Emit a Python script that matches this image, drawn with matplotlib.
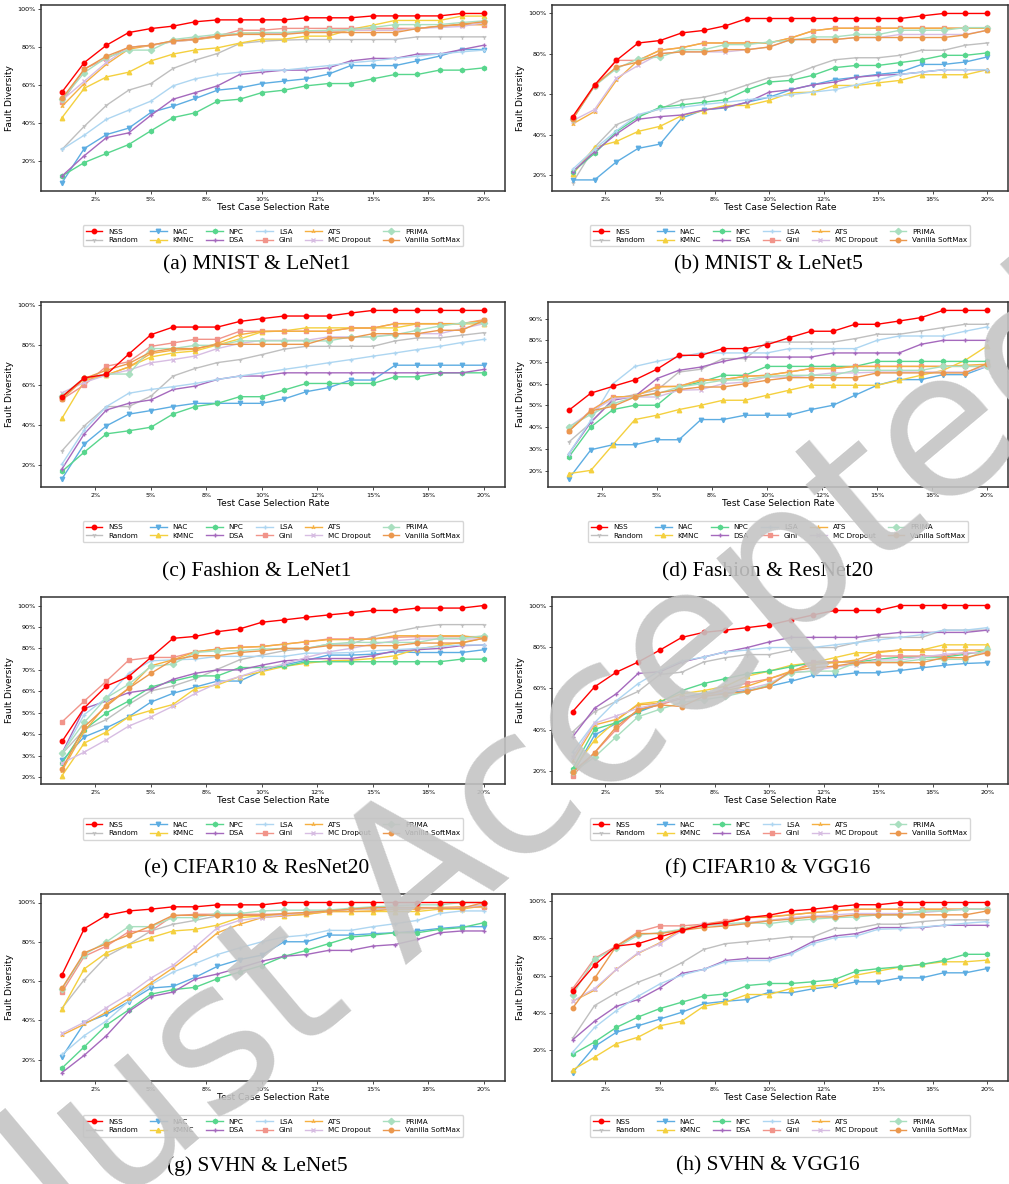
import matplotlib.pyplot as plt
from matplotlib.ticker import PercentFormatter

methods = ["NSS", "Random", "NAC", "KMNC", "NPC", "DSA", "LSA", "Gini", "ATS",
           "MC Dropout", "PRIMA", "Vanilla SoftMax"]
colors = ["#ff0000", "#bfbfbf", "#5dade2", "#f4d03f", "#58d68d", "#a569bd", "#aed6f1",
          "#f1948a", "#f5b041", "#d7bde2", "#a9dfbf", "#eb984e"]
markers = ["o", "1", "v", "^", "h", "+", "+", "s", "2", "x", "D", "o"]

rates = list(range(1, 21))  # selection rate, %

# rows follow the order of `methods`
a_vals = [
    [56.4, 71.9, 81.1, 87.8, 89.9, 91.2, 93.5, 94.5, 94.5, 94.5, 94.5, 95.6, 95.6, 95.6, 96.6, 96.6, 96.6, 96.6, 97.9, 97.9],
    [26, 38.2, 49.3, 57.3, 60.8, 68.8, 73.2, 76.7, 82, 83.2, 83.8, 84.1, 84.1, 84.1, 84.1, 84.1, 85.5, 85.5, 85.5, 85.5],
    [8.4, 26.4, 33.8, 37.2, 45.5, 48.8, 52.9, 57.3, 58.5, 60.8, 62.1, 63.3, 65.8, 70.3, 70.3, 70.3, 72.8, 75.3, 78.8, 78.8],
    [42.8, 58.3, 64.3, 66.8, 72.8, 76.4, 78.6, 79.7, 82.2, 84.3, 84.3, 85.9, 85.9, 89.5, 91.7, 94.2, 94.2, 94.2, 96.5, 96.5],
    [11.9, 19.0, 23.8, 28.5, 35.8, 42.8, 45.3, 51.5, 52.5, 56.0, 57.3, 59.6, 60.8, 60.8, 63.3, 65.6, 65.6, 67.9, 67.9, 69.1],
    [11.9, 22.6, 32.2, 34.7, 44.0, 52.5, 56.0, 59.6, 65.6, 66.8, 67.9, 67.9, 69.1, 72.8, 74.1, 74.1, 76.4, 76.4, 78.8, 81.1],
    [26.0, 33.5, 41.9, 46.7, 51.5, 59.6, 63.3, 65.6, 66.8, 67.9, 67.9, 69.1, 70.3, 71.8, 72.8, 74.1, 75.3, 76.4, 77.6, 78.5],
    [51, 68.6, 74, 80, 81, 83.4, 84.6, 86, 89, 89, 90, 90, 90, 90, 90, 90, 90, 91, 92, 92],
    [48.8, 60.8, 71, 79, 81, 83, 84, 85.5, 87.5, 87.5, 87.5, 88, 88, 89, 89, 89, 90, 91, 92, 92],
    [52, 62, 72, 80, 81, 83, 84, 86, 87, 87, 87.5, 88, 88.5, 89, 89, 89, 90, 90.5, 91, 93],
    [52.4, 66.6, 74.6, 78.5, 78.5, 84.1, 85.5, 86.8, 87.3, 87.8, 87.8, 88.7, 89, 89.4, 90.5, 92, 92, 92, 93.1, 94],
    [52.9, 68.4, 75.3, 79.9, 81.1, 83.4, 84.1, 85.9, 86.8, 86.8, 86.8, 87.8, 87.8, 87.8, 87.8, 87.8, 89.9, 91.2, 92.2, 93.5],
]
b_vals = [
    [49, 64.6, 76.8, 85.4, 86.6, 90.4, 91.6, 93.9, 97.5, 97.5, 97.5, 97.5, 97.5, 97.5, 97.5, 97.5, 98.8, 100, 100, 100],
    [16.4, 33.8, 45.0, 49.5, 52.8, 57.3, 58.6, 61.1, 64.7, 68.2, 69.4, 73.5, 77.1, 78.1, 78.1, 79.3, 81.8, 81.8, 84.3, 85.4],
    [17.7, 17.7, 26.6, 33.3, 35.4, 48.3, 52.3, 53.3, 56.1, 58.6, 62.3, 64.7, 67.2, 68.5, 69.9, 71.0, 74.8, 74.8, 76.0, 78.5],
    [20.5, 33.8, 36.7, 41.7, 44.2, 49.5, 52.0, 54.5, 54.5, 57.0, 60.8, 61.1, 64.4, 64.4, 65.7, 66.9, 69.7, 69.7, 69.7, 72.2],
    [21.7, 30.8, 41.5, 48.7, 53.6, 54.8, 56.1, 57.3, 62.3, 66.1, 66.9, 69.4, 73.2, 74.3, 74.3, 75.7, 77.1, 79.3, 79.3, 80.5],
    [21.8, 31.6, 40.4, 47.7, 49, 49.8, 52.3, 53.6, 56.1, 61.1, 62.3, 64.7, 66.1, 68.5, 69.4, 69.9, 71.0, 72.2, 72.2, 72.2],
    [23, 32.9, 42, 50, 52.8, 53.6, 55, 56.1, 57.3, 58.6, 59.9, 61.1, 62.3, 64.7, 67.2, 69.9, 71.0, 72.2, 72.2, 72.2],
    [47.8, 64.1, 76.8, 76.8, 81.8, 83.1, 85.4, 85.4, 85.4, 85.4, 87.9, 91.4, 92.7, 92.7, 92.7, 92.7, 92.7, 92.7, 92.7, 92.7],
    [45.4, 51.5, 66.9, 76.8, 81.8, 83.1, 85.4, 85.4, 85.4, 85.4, 87.9, 91.4, 92.7, 92.7, 92.7, 92.7, 92.7, 92.7, 92.7, 92.7],
    [47, 52.5, 68, 74.3, 80.1, 81, 81, 81, 82.1, 83.4, 87.1, 87.1, 87.1, 88.1, 88.1, 89.6, 89.6, 89.6, 89.6, 91.7],
    [47.8, 64.1, 72.7, 77.6, 78.5, 82.1, 82.1, 84.6, 84.6, 85.9, 86.7, 88.4, 88.4, 89.6, 89.6, 91.7, 91.7, 91.7, 93, 93],
    [47.8, 64.4, 73.5, 76.0, 80.1, 81.0, 81.0, 82.1, 82.1, 83.4, 87.1, 87.1, 87.1, 88.1, 88.1, 88.1, 88.1, 88.1, 89.4, 91.7],
]
c_vals = [
    [54.2, 63.6, 65.3, 75.4, 85.1, 88.9, 88.9, 88.9, 91.7, 93.1, 94.4, 94.4, 94.4, 95.9, 97.2, 97.2, 97.2, 97.2, 97.2, 97.2],
    [27.3, 39.7, 49.3, 49.3, 54.5, 64.5, 68.3, 71.2, 72.7, 75.2, 77.9, 79.3, 79.3, 79.3, 79.3, 82.0, 83.5, 83.5, 84.8, 86.1],
    [13.4, 30.6, 39.7, 45.5, 47.3, 49.3, 50.9, 50.9, 50.9, 50.9, 53.1, 56.7, 58.7, 62.5, 62.5, 69.9, 69.9, 69.9, 69.9, 69.9],
    [43.5, 62, 65, 69, 74, 76, 77, 80, 83, 86.5, 87, 88.5, 88.5, 88.5, 88.5, 88.5, 90.5, 90.5, 90.5, 90.5],
    [17, 26.6, 35.7, 37.2, 39, 45.6, 49.3, 50.9, 54.2, 54.2, 57.5, 60.8, 60.8, 60.8, 60.8, 64.1, 64.1, 66.1, 66.1, 66.1],
    [18.3, 35.7, 47.6, 50.9, 52.6, 57.8, 59.5, 62.8, 64.5, 64.5, 66.1, 66.1, 66.1, 66.1, 66.1, 66.1, 66.1, 66.1, 66.1, 67.8],
    [20.7, 37.7, 49.3, 55.9, 57.8, 59.2, 60.8, 62.8, 64.5, 66.1, 67.8, 69.4, 71.1, 72.7, 74.4, 76.0, 77.7, 79.3, 81.2, 82.8],
    [52.9, 60, 69.4, 71.6, 79.3, 81, 82.8, 82.8, 86.8, 86.8, 86.8, 86.8, 86.8, 88.4, 88.4, 90.6, 90.6, 90.6, 90.6, 92.6],
    [54, 63, 65, 69, 75.7, 77.4, 77.9, 80.7, 85.1, 86.8, 86.8, 86.8, 86.8, 88.4, 88.4, 90.6, 90.6, 90.6, 90.6, 92.2],
    [56.2, 61.3, 65, 67.4, 71.1, 72.7, 74.5, 78.2, 80.7, 82.3, 82.3, 82.3, 84, 84, 84, 85.6, 85.6, 85.6, 88.1, 90.6],
    [54.5, 63.6, 65.5, 65.5, 78.2, 78.2, 79.8, 79.8, 82, 82, 82, 82, 82, 84, 84, 85.1, 87.3, 89.4, 90.9, 91.1],
    [52.9, 63.3, 67.4, 70.7, 76.5, 78.2, 78.2, 80.3, 80.3, 80.3, 80.3, 80.3, 83.5, 83.5, 85.6, 85.6, 85.6, 87.3, 87.3, 92.2],
]
d_vals = [
    [47.8, 55.7, 58.8, 61.8, 66.7, 73.1, 73.1, 76.2, 76.2, 78.0, 81.2, 84.2, 84.2, 87.4, 87.4, 88.9, 90.5, 93.8, 93.8, 93.8],
    [33.2, 42, 53, 55, 57, 65.4, 66.7, 71.6, 71.6, 79.2, 79.2, 79.2, 79.2, 80.8, 82.8, 82.8, 84.3, 85.9, 87.4, 87.4],
    [16.3, 29.6, 31.9, 31.9, 34.2, 34.2, 43.5, 43.5, 45.5, 45.5, 45.5, 48.1, 50.1, 54.7, 59.3, 61.9, 61.9, 64.2, 64.2, 68.0],
    [18.6, 20.1, 31.9, 43.5, 45.5, 48.1, 50.1, 52.4, 52.4, 54.7, 57.0, 59.3, 59.3, 59.3, 59.3, 61.6, 63.9, 66.2, 70.8, 77.4],
    [26.3, 40.1, 48.1, 50.1, 50.1, 58.5, 60.8, 63.9, 63.9, 68.0, 68, 68, 68, 68, 70.3, 70.3, 70.3, 70.3, 70.3, 70.3],
    [27.8, 42.4, 52.4, 54.2, 62.4, 66.2, 67.7, 70.3, 72.3, 72.3, 72.3, 72.3, 74.2, 74.2, 74.2, 74.2, 78.2, 80, 80, 80],
    [27.8, 43.2, 60, 68, 70.3, 72.3, 74.2, 74.2, 74.2, 74.2, 76.2, 76.2, 76.2, 76.2, 80, 82, 82, 82, 84.2, 86.2],
    [38.2, 47.8, 53.9, 54.2, 58.8, 58.8, 61.9, 61.9, 63.4, 63.9, 65.4, 67.0, 67.0, 68.0, 68.0, 68.0, 68.0, 68.0, 68.0, 68.0],
    [38.5, 47.5, 53.9, 54.2, 58.5, 58.8, 61.6, 61.9, 63.4, 63.9, 65.4, 67.0, 67.0, 68.0, 68.0, 68.0, 68.0, 68.0, 68.5, 69.0],
    [40.1, 47, 53.1, 53.9, 53.9, 57, 57.3, 60, 60.8, 63.1, 63.1, 63.9, 65, 65, 65.4, 65.4, 65.4, 65.4, 65.4, 68],
    [40.1, 45.9, 50.8, 53.9, 55.4, 58.5, 60, 61.6, 61.9, 63.4, 63.9, 63.9, 63.9, 66.2, 66.2, 66.2, 66.2, 68, 68, 68],
    [38.2, 47.5, 49.6, 53.9, 55.7, 57.3, 58.5, 58.5, 60, 61.6, 62.8, 62.8, 62.8, 62.8, 65, 65, 65, 65, 65, 69.3],
]
e_vals = [
    [36.7, 52.3, 62.5, 66.9, 75.8, 84.7, 85.6, 87.8, 89.1, 92.2, 93.3, 94.5, 95.6, 96.6, 97.7, 97.7, 98.8, 98.8, 98.8, 100],
    [30.9, 42.2, 46.9, 53.9, 60.2, 62.5, 65.9, 70.3, 74.7, 76.9, 78.9, 80, 82, 82, 85.5, 87.8, 89.8, 91.1, 91.1, 91.1],
    [27.8, 38.8, 43, 48.1, 55, 59.1, 62, 64.8, 64.8, 69.5, 72.3, 74.5, 76.9, 76.9, 77.3, 78.4, 78.1, 78.1, 78.1, 79.4],
    [20.8, 35.9, 41.1, 48.1, 51.1, 53.9, 61.3, 63, 66.9, 69.2, 71.6, 73.1, 74.2, 74.5, 75.3, 76.6, 79.7, 81.3, 82.8, 84.7],
    [26.6, 42.2, 50, 55.5, 62, 64.8, 67.2, 67.2, 71.1, 71.1, 71.6, 73.8, 73.8, 73.8, 73.8, 73.8, 73.8, 73.8, 75, 75],
    [31.3, 52, 55.5, 59.4, 60.9, 65.6, 68.4, 70, 70, 72.2, 74.2, 75, 75.3, 75.3, 76.6, 78.9, 79.4, 80, 81.3, 81.6],
    [30.9, 49.2, 57, 68.4, 74.2, 74.7, 75, 76.3, 76.3, 76.3, 76.3, 77.8, 77.8, 78.1, 78.9, 79.4, 80, 80.9, 81.6, 81.6],
    [45.8, 55.5, 64.8, 74.5, 75.8, 75.8, 78.4, 79.7, 80.5, 80.9, 82, 83.1, 84.4, 84.4, 84.4, 85.2, 85.5, 85.5, 85.5, 85.5],
    [23.1, 41.4, 53.9, 61.4, 71.9, 74.7, 78.4, 79.7, 80.5, 80.9, 82, 83.1, 84.1, 84.1, 84.4, 85.9, 85.9, 85.9, 85.9, 84.7],
    [26.6, 31.7, 37.5, 43.8, 48.1, 53.1, 59.1, 63.8, 66.9, 70.3, 72.7, 75.8, 78.4, 80, 82, 83.6, 84.4, 84.4, 84.4, 84.4],
    [31.3, 45.6, 57, 63.3, 71.6, 72.7, 78.1, 78.9, 78.9, 79.7, 80, 80, 82, 82.8, 82.8, 82.8, 82.8, 84.7, 84.7, 85.9],
    [23.9, 43.5, 53.1, 61.4, 68.4, 74.7, 76.6, 76.6, 78.1, 78.9, 80, 80, 81.3, 81.3, 81.3, 81.3, 82.5, 82.5, 82.5, 84.8],
]
f_vals = [
    [48.8, 60.7, 67.8, 72.7, 78.5, 84.6, 87, 88.1, 89.3, 90.6, 93, 95.4, 97.6, 97.6, 97.6, 100, 100, 100, 100, 100],
    [39, 48.8, 53.7, 58.5, 66.7, 67.8, 72.7, 74.8, 76.3, 76.3, 78.5, 79.7, 79.7, 82.1, 84.6, 84.6, 84.6, 88.1, 88.1, 88.1],
    [18.7, 37.4, 43.1, 48.5, 52.5, 55.3, 57.7, 57.7, 59, 61, 63.4, 66.2, 66.2, 67.5, 67.5, 68.6, 69.9, 71.1, 72, 72.4],
    [20.3, 35, 44.4, 52.5, 53.7, 57.4, 58.9, 61, 65.9, 68.3, 71.1, 72.4, 74.8, 77.2, 77.2, 78.5, 78.5, 81, 81, 81],
    [21.1, 40.2, 43.4, 48.8, 53.2, 58.9, 62.3, 64.7, 67, 68.3, 70.4, 72.4, 72.7, 72.7, 74, 75.1, 75.1, 75.1, 76.4, 78.5],
    [36.6, 50.4, 57.4, 67.2, 68, 72.7, 75.1, 77.6, 79.7, 82.4, 84.6, 84.6, 84.6, 84.6, 85.9, 87, 87, 87, 87, 88.1],
    [29.3, 43.4, 54, 62.3, 68.6, 73.2, 75.1, 77.6, 78.5, 79.7, 79.7, 79.7, 81, 82.1, 83.4, 84.6, 85.9, 88.1, 88.1, 89.3],
    [17.9, 28.9, 40.2, 49.9, 52, 55.3, 56.4, 59.7, 62.6, 64.6, 67.8, 72.7, 72.7, 72.7, 75.6, 75.6, 75.6, 75.6, 77.2, 77.2],
    [24.9, 42.3, 45, 52, 52.8, 55.3, 56.4, 58.9, 61, 64.6, 68.3, 71.5, 72.4, 73.7, 77.7, 78.5, 78.5, 78.5, 78.5, 78.5],
    [26.8, 43.1, 46.7, 50.4, 52.8, 55.3, 56.1, 58.5, 59.7, 62.3, 67.8, 68.3, 70.4, 71.5, 73.7, 73.7, 75.1, 76.4, 77.2, 77.2],
    [19.5, 26.8, 36.6, 46.3, 49.9, 53.2, 54.5, 56.1, 58.5, 61.8, 67.5, 68.3, 68.3, 72.4, 72.7, 72.7, 74, 74, 74, 78.9],
    [19.5, 28.9, 41.5, 49.6, 52, 51.2, 56.1, 57.4, 58.5, 61, 68.3, 69.9, 70.7, 72.4, 72.4, 72.4, 72.4, 74.8, 74.8, 77.2],
]
g_vals = [
    [63.3, 86.7, 93.5, 95.7, 96.6, 97.8, 97.8, 98.8, 98.8, 98.8, 100, 100, 100, 100, 100, 100, 100, 100, 100, 100],
    [46.2, 60.7, 72.6, 78.6, 85.5, 88.9, 90.9, 93.2, 93.5, 93.5, 93.5, 94.9, 95.7, 96.6, 96.6, 96.6, 97.4, 97.4, 97.4, 98.8],
    [21.4, 38.5, 43, 49.5, 56.4, 57.3, 61.9, 67.5, 70.9, 73.2, 80, 80, 83.4, 83.4, 84.1, 84.6, 85.5, 86.8, 87.7, 87.7],
    [45.8, 66.2, 74.4, 78.6, 82.1, 85.5, 86.3, 88.5, 92.3, 93.2, 93.2, 94, 95.4, 95.4, 95.4, 95.4, 95.4, 96.6, 96.6, 98.3],
    [15.7, 26.5, 37.6, 45.3, 53.3, 55.6, 56.8, 61.2, 64.6, 67.9, 72.6, 75.6, 79, 82.4, 83.4, 84.6, 84.6, 86.3, 87.2, 89.7],
    [13.4, 22.2, 32.2, 44.5, 52.1, 54.4, 61, 63.6, 66.7, 70.1, 72.6, 73.5, 75.6, 75.6, 77.8, 78.6, 81.2, 84.6, 85.5, 85.5],
    [22.6, 32.2, 39.7, 49.6, 58.1, 64.6, 68.9, 73.5, 76.9, 80, 82.4, 83.4, 85.8, 85.8, 87.7, 89.2, 90.9, 94.4, 95.7, 95.7],
    [54.4, 72.6, 77.8, 85.1, 85.5, 93.2, 94, 94, 94, 94, 94, 94.9, 95.7, 96.6, 97.4, 97.4, 97.4, 97.4, 97.4, 97.8],
    [32.5, 38, 44.1, 51, 59, 66.7, 75.2, 84.6, 88.9, 92.3, 93.2, 94, 95.4, 95.4, 95.7, 96.6, 96.6, 97.4, 97.8, 97.8],
    [33.3, 39, 46.5, 53.3, 61.5, 68, 77.3, 87.2, 90.9, 92.3, 93.7, 94.9, 95.7, 96.6, 97.1, 97.1, 97.1, 97.1, 97.4, 98.8],
    [56.1, 73.5, 80, 87.7, 87.7, 92.3, 92.3, 94.4, 94.4, 95.7, 96.1, 96.1, 96.1, 97.1, 97.8, 98.3, 98.8, 98.8, 100, 100],
    [56.4, 74.4, 79, 83.4, 88, 93.5, 93.5, 93.5, 93.5, 93.5, 94.4, 94.9, 95.7, 96.6, 97.4, 97.4, 97.4, 97.1, 97.1, 100],
]
h_vals = [
    [52, 65.6, 75.8, 77.1, 80.7, 84.2, 87.1, 88.4, 91, 92.3, 94.6, 95.5, 96.8, 97.9, 97.9, 99.1, 99.1, 99.1, 99.1, 99.1],
    [26.6, 44, 50.8, 56.5, 61, 66.9, 74, 77.1, 78.2, 79.4, 80.7, 80.7, 85.3, 85.3, 87.5, 87.5, 88.9, 89.8, 89.8, 89.8],
    [8.2, 22.1, 29.7, 33.2, 36.8, 40.4, 45, 46.3, 47.2, 51.1, 50.8, 52.9, 54.4, 56.7, 56.7, 58.8, 58.8, 61.5, 61.5, 63.8],
    [9.6, 16.4, 23.6, 27.1, 33.2, 35.6, 43.6, 45.8, 49.9, 49.9, 53.1, 54.4, 55.3, 60.3, 62.4, 64.6, 66, 67.4, 67.4, 68.3],
    [18, 24.5, 32.3, 37.9, 42.4, 45.8, 49.1, 50.2, 54.7, 55.8, 55.8, 56.7, 57.9, 62.4, 63.7, 64.7, 66, 68.1, 71.4, 71.4],
    [25.7, 35.6, 43.6, 47.2, 53.5, 61.2, 63.3, 68.1, 69.2, 69.2, 72.2, 78.2, 81.2, 82.5, 85.7, 85.7, 85.7, 86.9, 86.9, 86.9],
    [19.1, 32.3, 41.3, 49, 55.6, 60.3, 63.3, 67.4, 68.1, 68.1, 71.4, 77.1, 80.3, 81.2, 84.8, 85.1, 86, 86.9, 88, 88.9],
    [53.1, 69.2, 75.8, 83.4, 86.6, 86.6, 87.5, 89.3, 91, 91.4, 92.5, 93.7, 94.6, 95.5, 95.5, 95.5, 95.5, 95.5, 95.5, 95.5],
    [46.3, 52.2, 63.3, 71.9, 77.6, 84.8, 87.5, 88.4, 91, 91.4, 92.5, 93.7, 94.6, 95.5, 95.5, 95.5, 95.5, 95.5, 95.5, 95.5],
    [46.3, 53.1, 63.3, 72.3, 77.1, 83.9, 87.8, 86.6, 88.4, 89.6, 91, 91.9, 92.5, 93.2, 93.2, 93.2, 93.7, 94.6, 95.5, 95.5],
    [49.9, 68.7, 74.9, 81.7, 83, 84.8, 86.6, 87.8, 88.4, 87.8, 89.3, 90.2, 91, 91.4, 92.5, 92.5, 94.6, 94.6, 95.5, 95.5],
    [42.7, 58.5, 75.8, 82.5, 82.5, 84.2, 85.7, 86.6, 87.8, 89.3, 90.2, 91.4, 91.4, 92.5, 92.5, 92.5, 92.5, 92.5, 92.5, 94.6],
]

panels = [a_vals, b_vals, c_vals, d_vals, e_vals, f_vals, g_vals, h_vals]
captions = ["(a) MNIST & LeNet1", "(b) MNIST & LeNet5", "(c) Fashion & LeNet1",
            "(d) Fashion & ResNet20", "(e) CIFAR10 & ResNet20", "(f) CIFAR10 & VGG16",
            "(g) SVHN & LeNet5", "(h) SVHN & VGG16"]
ytick_step = [20, 20, 20, 10, 10, 20, 20, 20]

W, H = 1009, 1184
fig = plt.figure(figsize=(W / 100, H / 100), dpi=100)

# axes boxes in pixels (left, right, top, bottom)
lefts = [41, 552, 41, 548, 41, 552, 41, 552]
rights = [505, 1008, 505, 1008, 505, 1008, 505, 1008]
tops = [5, 302, 597, 894]
bottoms = [191, 487, 784, 1081]
cap_y = [265, 572, 869, 1166]
cap_x = [257, 768]

for i, vals in enumerate(panels):
    r = i // 2
    x0, x1 = lefts[i], rights[i]
    ax = fig.add_axes([x0 / W, 1 - bottoms[r] / H, (x1 - x0) / W, (bottoms[r] - tops[r]) / H])
    for m, c, mk, y in zip(methods, colors, markers, vals):
        ax.plot(rates, y, color=c, marker=mk, markersize=3.2, linewidth=1.0, label=m,
                zorder=3 if m == "NSS" else 2)
    ax.set_xticks([2.5 * k for k in range(1, 9)])
    ax.xaxis.set_major_formatter(PercentFormatter(100, decimals=0))
    ax.yaxis.set_major_formatter(PercentFormatter(100, decimals=0))
    lo, hi = ax.get_ylim()
    st = ytick_step[i]
    ax.set_yticks([t for t in range(20, 101, st) if lo <= t <= hi])
    ax.tick_params(labelsize=4.6, length=2, width=0.5, pad=2)
    ax.set_xlabel("Test Case Selection Rate", fontsize=6.6, labelpad=1)
    ax.set_ylabel("Fault Diversity", fontsize=6.6, labelpad=2)
    for s in ax.spines.values():
        s.set_linewidth(1.1)
        s.set_color("#333333")
    ax.legend(loc="upper center", bbox_to_anchor=(0.5, -0.165), ncol=6, fontsize=5.2,
              handlelength=2.3, columnspacing=1.7, labelspacing=0.35, borderpad=0.45,
              frameon=True)
    fig.text(cap_x[i % 2] / W, 1 - cap_y[r] / H, captions[i], fontsize=15.5,
             family="Liberation Serif", ha="center", va="center")

# "Just Accepted" watermark of the preprint
fig.text(0.56, 0.353, "Just Accepted", rotation=40, ha="center", va="center",
         fontsize=146, color="#c4c4c4", alpha=0.9, zorder=10)

fig.savefig("out.png", dpi=100)
